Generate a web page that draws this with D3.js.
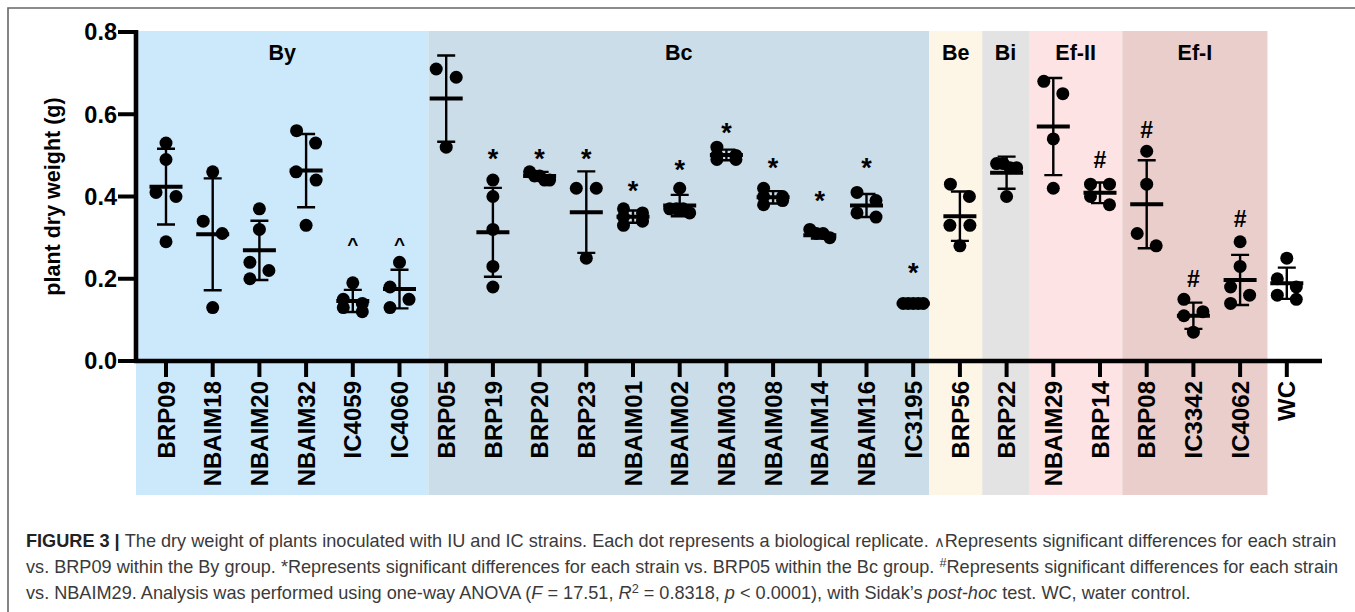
<!DOCTYPE html>
<html>
<head>
<meta charset="utf-8">
<script src="https://cdn.jsdelivr.net/npm/d3@7"></script>
<style>
  body { margin: 0; background: #fff; }
  svg { display: block; }
  text { font-family: "Liberation Sans", Arial, Helvetica, sans-serif; }
</style>
</head>
<body>
<svg id="chart" width="1355" height="612"></svg>
<script>

/************************************************/
/* Data                     */
/************************************************/

const strains = ["BRP09", "NBAIM18", "NBAIM20", "NBAIM32", "IC4059", "IC4060",
    "BRP05", "BRP19", "BRP20", "BRP23", "NBAIM01", "NBAIM02", "NBAIM03", "NBAIM08",
    "NBAIM14", "NBAIM16", "IC3195", "BRP56", "BRP22", "NBAIM29", "BRP14",
    "BRP08", "IC3342", "IC4062", "WC"];

const groupNames = ["By", "Bc", "Be", "Bi", "Ef-II", "Ef-I"];
const groupSizes = [6, 11, 1, 1, 2, 3];

// dry weight (g) of every biological replicate
const replicates = [
    [0.53, 0.49, 0.41, 0.40, 0.29],
    [0.46, 0.34, 0.31, 0.13],
    [0.37, 0.32, 0.24, 0.22, 0.20],
    [0.56, 0.53, 0.46, 0.44, 0.33],
    [0.19, 0.15, 0.14, 0.13, 0.12],
    [0.24, 0.18, 0.15, 0.13],
    [0.71, 0.69, 0.52],
    [0.44, 0.40, 0.32, 0.23, 0.18],
    [0.46, 0.45, 0.45, 0.44, 0.44],
    [0.42, 0.42, 0.25],
    [0.37, 0.36, 0.35, 0.34, 0.33],
    [0.42, 0.37, 0.37, 0.37, 0.36],
    [0.52, 0.50, 0.50, 0.49, 0.49],
    [0.42, 0.40, 0.40, 0.39, 0.38],
    [0.32, 0.31, 0.31, 0.30],
    [0.41, 0.39, 0.36, 0.35],
    [0.14, 0.14, 0.14, 0.14, 0.14],
    [0.43, 0.40, 0.33, 0.33, 0.28],
    [0.48, 0.48, 0.47, 0.47, 0.40],
    [0.68, 0.65, 0.54, 0.42],
    [0.43, 0.43, 0.40, 0.38],
    [0.51, 0.43, 0.31, 0.28],
    [0.15, 0.12, 0.11, 0.07],
    [0.29, 0.23, 0.18, 0.16, 0.14],
    [0.25, 0.20, 0.18, 0.16, 0.15]
];

const means = [0.424, 0.308, 0.269, 0.463, 0.146, 0.175,
    0.638, 0.313, 0.450, 0.362, 0.351, 0.378, 0.501, 0.398, 0.306, 0.378, 0.140,
    0.352, 0.458, 0.570, 0.409, 0.381, 0.110, 0.197, 0.189];

const sds = [0.092, 0.136, 0.072, 0.089, 0.027, 0.047,
    0.105, 0.108, 0.010, 0.099, 0.015, 0.026, 0.013, 0.015, 0.008, 0.028, 0.000,
    0.060, 0.039, 0.118, 0.025, 0.107, 0.032, 0.061, 0.038];

// significance symbols and the level (g) they sit at
const marks = ["", "", "", "", "^", "^",
    "", "*", "*", "*", "*", "*", "*", "*", "*", "*", "*",
    "", "", "", "#", "#", "#", "#", ""];
const markLevels = [0, 0, 0, 0, 0.294, 0.294,
    0, 0.509, 0.509, 0.509, 0.432, 0.483, 0.574, 0.489, 0.408, 0.489, 0.233,
    0, 0, 0, 0.489, 0.562, 0.201, 0.347, 0];

const yTicks = [0.0, 0.2, 0.4, 0.6, 0.8];

/************************************************/
/* Layout                                       */
/************************************************/

const groupColors = ["#cce9fb", "#cbdde9", "#fdf6e7", "#e3e3e3", "#fde3e3", "#e9cecb"];
// small nudges (px) of the shaded group edges, as in the original figure
const edgeNudge = [0, 5.5, -7.5, -1, -1, -1, 4];

const svg = d3.select("#chart");
const axisX = 136, axisBottom = 361, axisTop = 32, axisRight = 1322;

const x = d3.scalePoint().domain(strains).range([166, 1286.8]);
const step = x.step();
const y = d3.scaleLinear().domain([0, 0.8]).range([axisBottom, axisTop]);

svg.append("rect").attr("width", 1355).attr("height", 612).attr("fill", "#fff");

// figure frame
svg.append("path")
    .attr("d", "M8,612 V8 H1355")
    .attr("fill", "none")
    .attr("stroke", "#666")
    .attr("stroke-width", 1.6);

/************************************************/
/* Group shading and names                      */
/************************************************/

let start = 0;
const groups = groupNames.map((name, i) => {
    const g = {name: name, first: start, last: start + groupSizes[i] - 1, color: groupColors[i]};
    start += groupSizes[i];
    return g;
});
groups.forEach((g, i) => {
    g.x0 = i === 0 ? axisX : x(strains[g.first]) - step / 2 + edgeNudge[i];
    g.x1 = x(strains[g.last]) + step / 2 + edgeNudge[i + 1];
});

svg.append("g").selectAll("rect").data(groups).enter().append("rect")
    .attr("x", d => d.x0)
    .attr("y", 31)
    .attr("width", d => d.x1 - d.x0)
    .attr("height", 495 - 31)
    .attr("fill", d => d.color);

svg.append("g").selectAll("text").data(groups).enter().append("text")
    .attr("x", d => (d.x0 + d.x1) / 2)
    .attr("y", 59.5)
    .attr("text-anchor", "middle")
    .style("font-size", "21.5px")
    .style("font-weight", "bold")
    .text(d => d.name);

/************************************************/
/* Replicate dots, mean and SD                  */
/************************************************/

const R = 6.5, H = 9.5;

// spread dots that would sit on top of each other
function dodge(vals) {
    const ys = vals.map(v => y(v));
    const order = d3.range(vals.length).sort((a, b) => ys[a] - ys[b]);
    const off = vals.map(() => 0);
    let chain = [order[0]];
    const flush = () => {
        const n = chain.length;
        if (n < 2) return;
        const span = ys[chain[n - 1]] - ys[chain[0]];
        chain.forEach((k, i) => {
            off[k] = span < 10 ? -H - 0.5 + (2 * H + 1) * i / (n - 1) : (i % 2 ? H : -H);
        });
    };
    for (let i = 1; i < order.length; i++) {
        const k = order[i];
        if (ys[k] - ys[chain[chain.length - 1]] < 14) chain.push(k);
        else { flush(); chain = [k]; }
    }
    flush();
    return off;
}

const dots = [];
strains.forEach((s, i) => {
    const off = dodge(replicates[i]);
    replicates[i].forEach((v, j) => dots.push({strain: s, value: v, dx: off[j]}));
});

svg.append("g").selectAll("circle").data(dots).enter().append("circle")
    .attr("cx", d => x(d.strain) + d.dx)
    .attr("cy", d => y(d.value))
    .attr("r", R)
    .attr("fill", "#000");

const stats = strains.map((s, i) => ({strain: s, mean: means[i], sd: sds[i]}));
const err = svg.append("g").attr("stroke", "#000").attr("fill", "none");

err.selectAll(".whisker").data(stats.filter(d => d.sd > 0)).enter().append("path")
    .attr("class", "whisker")
    .attr("stroke-width", 2.4)
    .attr("d", d => {
        const cx = x(d.strain), t = y(d.mean + d.sd), b = y(d.mean - d.sd);
        return "M" + cx + "," + t + "V" + b
            + "M" + (cx - 9) + "," + t + "H" + (cx + 9)
            + "M" + (cx - 9) + "," + b + "H" + (cx + 9);
    });

err.selectAll(".mean").data(stats).enter().append("line")
    .attr("class", "mean")
    .attr("stroke-width", 4)
    .attr("x1", d => x(d.strain) - 16.5)
    .attr("x2", d => x(d.strain) + 16.5)
    .attr("y1", d => y(d.mean))
    .attr("y2", d => y(d.mean));

// significance symbols
const markStyle = {
    "*": {size: 27, dy: "0.62em"},
    "#": {size: 23, dy: "0.36em"},
    "^": {size: 19, dy: "0.55em"}
};
const markData = strains.map((s, i) => ({strain: s, mark: marks[i], level: markLevels[i]}))
    .filter(d => d.mark);
svg.append("g").selectAll("text").data(markData).enter().append("text")
    .attr("x", d => x(d.strain))
    .attr("y", d => y(d.level))
    .attr("dy", d => markStyle[d.mark].dy)
    .attr("text-anchor", "middle")
    .style("font-size", d => markStyle[d.mark].size + "px")
    .style("font-weight", "bold")
    .text(d => d.mark);

/************************************************/
/* Axes                                         */
/************************************************/

const yAxis = svg.append("g");
yAxis.append("line")
    .attr("x1", axisX).attr("x2", axisX)
    .attr("y1", axisTop - 2).attr("y2", axisBottom + 2)
    .attr("stroke", "#000").attr("stroke-width", 4.6);
yAxis.selectAll(".tick").data(yTicks).enter().append("line")
    .attr("x1", 118).attr("x2", axisX)
    .attr("y1", d => y(d)).attr("y2", d => y(d))
    .attr("stroke", "#000").attr("stroke-width", 4);
yAxis.selectAll("text").data(yTicks).enter().append("text")
    .attr("x", 117)
    .attr("y", d => y(d))
    .attr("dy", "0.36em")
    .attr("text-anchor", "end")
    .style("font-size", "23.5px")
    .style("font-weight", "bold")
    .text(d3.format(".1f"));

svg.append("text")
    .attr("transform", "translate(52," + (axisTop + axisBottom) / 2 + ") rotate(-90)")
    .attr("dy", "0.35em")
    .attr("text-anchor", "middle")
    .style("font-size", "21.5px")
    .style("font-weight", "bold")
    .text("plant dry weight (g)");

const xAxis = svg.append("g");
xAxis.append("line")
    .attr("x1", axisX - 2).attr("x2", axisRight)
    .attr("y1", axisBottom).attr("y2", axisBottom)
    .attr("stroke", "#000").attr("stroke-width", 4.6);
xAxis.selectAll(".tick").data(strains).enter().append("line")
    .attr("x1", d => x(d)).attr("x2", d => x(d))
    .attr("y1", axisBottom).attr("y2", 377)
    .attr("stroke", "#000").attr("stroke-width", 4);
xAxis.selectAll("text").data(strains).enter().append("text")
    .attr("transform", d => "translate(" + x(d) + ",381) rotate(-90)")
    .attr("dy", "0.36em")
    .attr("text-anchor", "end")
    .style("font-size", "24px")
    .style("font-weight", "bold")
    .text(d => d);

/************************************************/
/* Caption                                      */
/************************************************/

const captionLines = [
    [["FIGURE 3 | ", "b"], ["The dry weight of plants inoculated with IU and IC strains. Each dot represents a biological replicate. "],
     ["\u2227", "s"], ["Represents significant differences for each strain"]],
    [["vs. BRP09 within the By group. *Represents significant differences for each strain vs. BRP05 within the Bc group. "],
     ["#", "sup"], ["Represents significant differences for each strain"]],
    [["vs. NBAIM29. Analysis was performed using one-way ANOVA ("], ["F", "i"], [" = 17.51, "], ["R", "i"], ["2", "sup"],
     [" = 0.8318, "], ["p", "i"], [" < 0.0001), with Sidak\u2019s "], ["post-hoc", "i"], [" test. WC, water control."]]
];

const caption = svg.append("g").attr("fill", "#3a3a3a");
const lineTexts = captionLines.map((parts, i) => {
    const t = caption.append("text")
        .attr("x", 26)
        .attr("y", 547 + i * 26)
        .style("font-size", "17px");
    let back = 0;   // px to drop back after a raised piece
    parts.forEach(p => {
        const ts = t.append("tspan").text(p[0]);
        if (back) { ts.attr("dy", back); back = 0; }
        if (p[1] === "b") ts.style("font-weight", "bold").attr("fill", "#222");
        if (p[1] === "i") ts.style("font-style", "italic");
        if (p[1] === "s") ts.style("font-size", "0.85em");
        if (p[1] === "sup") { ts.style("font-size", "0.7em").attr("dy", -6); back = 6; }
    });
    return t;
});

// scale the caption so the first line fills the frame width
const fit = 1311 / lineTexts[0].node().getComputedTextLength();
lineTexts.forEach(t => t.style("font-size", (17 * fit) + "px"));

</script>
</body>
</html>
